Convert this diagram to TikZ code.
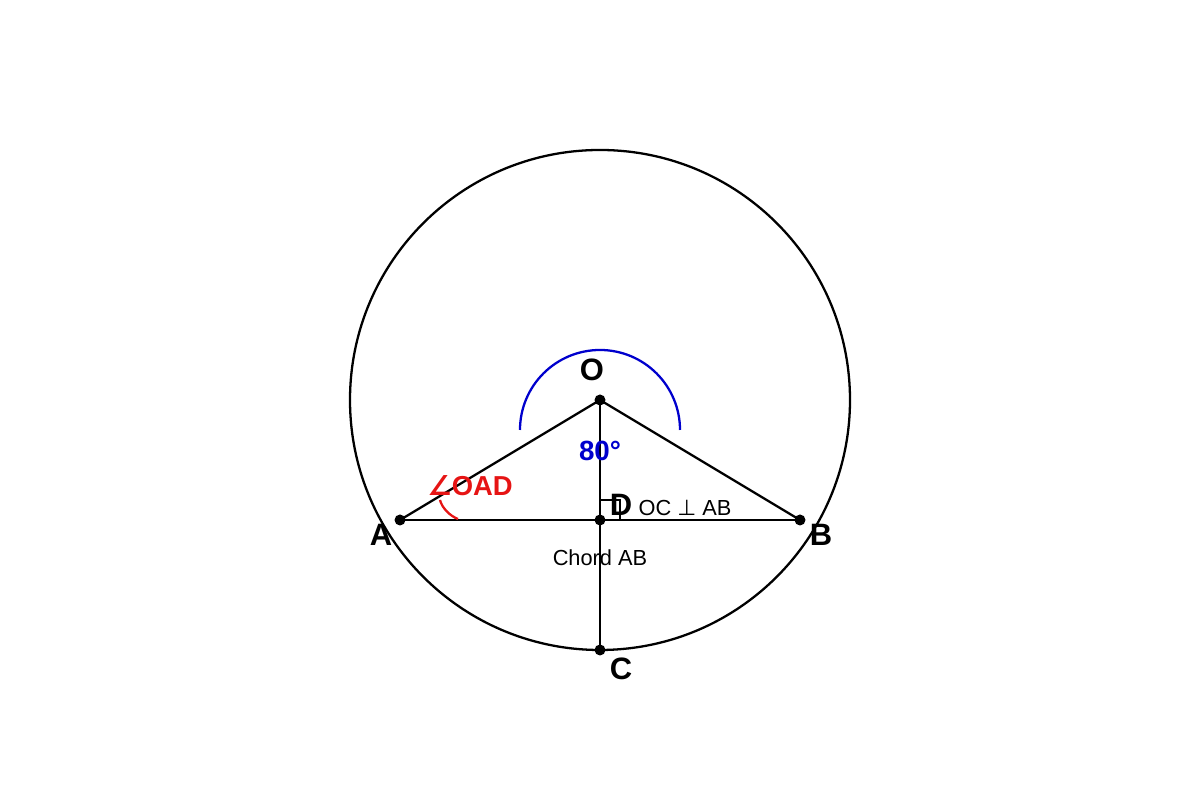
\documentclass[tikz,border=0pt]{standalone}
\usepackage{fontspec}
\setmainfont{Liberation Sans}
\newfontfamily\symfont{DejaVu Sans}
\definecolor{arcblue}{RGB}{0,0,205}
\definecolor{arcred}{RGB}{230,20,20}
\tikzset{
	dot/.style={circle, fill, inner sep=0pt, minimum size=0.11cm},
	ptlabel/.style={font=\fontsize{8.8}{10.5}\selectfont\bfseries},
	note/.style={font=\fontsize{6.2}{7.4}\selectfont}
}

\begin{document}
\begin{tikzpicture}[line width=0.65pt]
			\useasboundingbox (0,0) rectangle (12,8);

			\node (o)[dot] at (6,4) {};
			\node (a)[dot] at (4,2.8) {};
			\node (b)[dot] at (8,2.8) {};
			\node (d)[dot] at (6,2.8) {};
			\node (c)[dot] at (6,1.5) {};

			\draw (o.center) circle (2.5);

			\draw (a.center) -- (b.center);
			\draw (o.center) -- (c.center);
			\draw (o.center) -- (a.center);
			\draw (o.center) -- (b.center);

			% right angle at D
			\draw (6,3) -- (6.2,3) -- (6.2,2.8);

			% angle marks
			\draw [arcblue] (5.2,3.7) arc (180:0:0.8);
			\draw [arcred] (4.4,3.0) .. controls (4.42,2.92) and (4.5,2.84) .. (4.58,2.81);

			\node (la)[ptlabel] at (3.81,2.65) {A};
			\node (lb)[ptlabel] at (8.21,2.65) {B};
			\node (lc)[ptlabel] at (6.21,1.31) {C};
			\node (lo)[ptlabel] at (5.92,4.30) {O};
			\node (ld)[ptlabel] at (6.21,2.95) {D};

			\node (angoad)[font=\fontsize{7.8}{9.4}\selectfont\bfseries, text=arcred] at (4.70,3.14) {{\symfont\bfseries ∠}OAD};
			\node (angaob)[font=\fontsize{7.9}{9.5}\selectfont\bfseries, text=arcblue] at (6.0,3.49) {80°};
			\node (perp)[note] at (6.85,2.92) {OC {\symfont ⊥} AB};
			\node (chord)[note] at (6.0,2.42) {Chord AB};
		\end{tikzpicture}
\end{document}
